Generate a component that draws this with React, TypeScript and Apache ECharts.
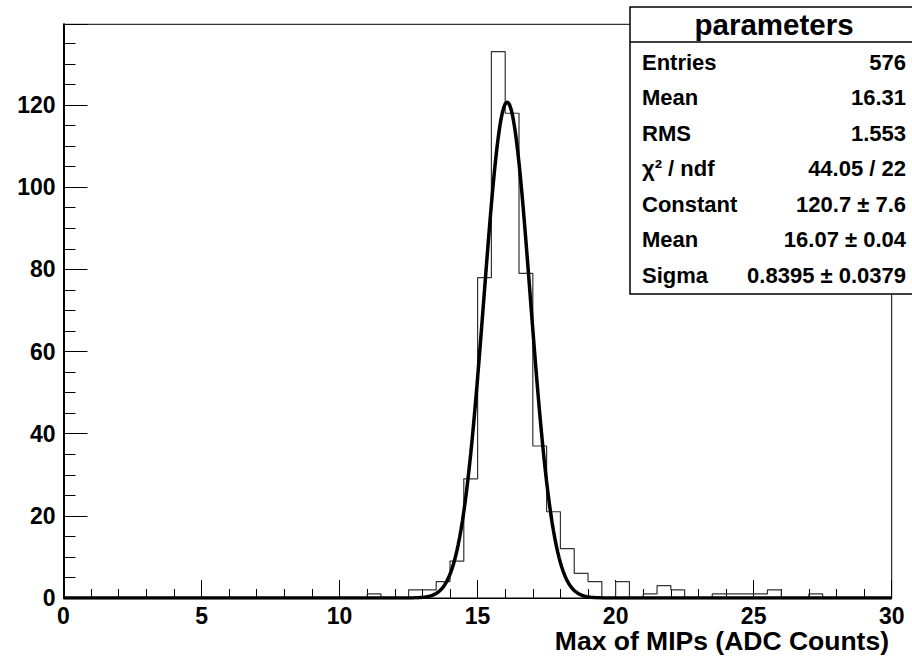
import React, { useEffect, useRef } from "react";
import * as echarts from "echarts";

// Histogram: 60 bins of width 0.5 from 0 to 30
const binWidth = 0.5;
const binCounts: number[] = [
  0, 0, 0, 0, 0, 0, 0, 0, 0, 0,
  0, 0, 0, 0, 0, 0, 0, 0, 0, 0,
  0, 0, 1, 0, 0, 2, 2, 4, 9, 29,
  78, 133, 118, 79, 37, 21, 12, 6, 4, 0,
  4, 0, 1, 3, 2, 0, 0, 1, 1, 1,
  1, 2, 0, 0, 1, 0, 0, 0, 0, 0,
];

// Gaussian fit parameters (from the stats box)
const fitConstant = 120.7;
const fitMean = 16.07;
const fitSigma = 0.8395;

const xTickLabels = ["0", "5", "10", "15", "20", "25", "30"];
const yTickLabels = ["0", "20", "40", "60", "80", "100", "120"];

const statsTitle = "parameters";
const statLabels = ["Entries", "Mean", "RMS", "χ² / ndf", "Constant", "Mean", "Sigma"];
const statValues = ["576", "16.31", "1.553", "44.05 / 22", "120.7 ± 7.6", "16.07 ± 0.04", "0.8395 ± 0.0379"];

const xAxisTitle = "Max of MIPs (ADC Counts)";

const FONT = "'Liberation Sans', Arial, Helvetica, sans-serif";

export default function App() {
  const ref = useRef<HTMLDivElement>(null);

  useEffect(() => {
    if (!ref.current) return;
    const chart = echarts.init(ref.current, null, { renderer: "svg" });

    // step outline points from bins
    const histPoints: number[][] = [];
    binCounts.forEach((c, i) => {
      const lo = i * binWidth;
      const hi = lo + binWidth;
      histPoints.push([lo, c]);
      histPoints.push([hi, c]);
    });

    const fitPoints: number[][] = [];
    for (let k = 0; k <= 600; k++) {
      const x = k * 0.05;
      const z = (x - fitMean) / fitSigma;
      fitPoints.push([x, fitConstant * Math.exp(-0.5 * z * z)]);
    }

    const rowY0 = 62;
    const rowStep = 35.5;
    const statGraphics: any[] = [];
    statLabels.forEach((lab, i) => {
      statGraphics.push({
        type: "text",
        x: 642,
        y: rowY0 + i * rowStep,
        style: {
          text: lab,
          fontFamily: FONT,
          fontWeight: "bold",
          fontSize: 22,
          fill: "#000",
          textAlign: "left",
          textVerticalAlign: "middle",
        },
      });
      statGraphics.push({
        type: "text",
        x: 906,
        y: rowY0 + i * rowStep,
        style: {
          text: statValues[i],
          fontFamily: FONT,
          fontWeight: "bold",
          fontSize: 22,
          fill: "#000",
          textAlign: "right",
          textVerticalAlign: "middle",
        },
      });
    });

    chart.setOption({
      animation: false,
      backgroundColor: "#fff",
      grid: {
        left: 63.5,
        right: 20.3,
        top: 24.3,
        bottom: 60,
        show: true,
        borderColor: "#000",
        borderWidth: 1,
        backgroundColor: "transparent",
        containLabel: false,
      },
      xAxis: {
        type: "value",
        min: 0,
        max: 30,
        interval: 5,
        splitLine: { show: false },
        axisLine: { show: true, onZero: false, lineStyle: { color: "#000", width: 1 } },
        axisTick: { show: true, inside: true, length: 18, lineStyle: { color: "#000", width: 1 } },
        minorTick: { show: true, splitNumber: 5, length: 9, lineStyle: { color: "#000", width: 1 } },
        axisLabel: {
          show: true,
          margin: 6,
          color: "#000",
          fontFamily: FONT,
          fontWeight: "bold",
          fontSize: 23,
          formatter: (v: number) => (xTickLabels.includes(String(v)) ? String(v) : ""),
        },
      },
      yAxis: {
        type: "value",
        min: 0,
        max: 139.65,
        interval: 20,
        splitLine: { show: false },
        axisLine: { show: true, onZero: false, lineStyle: { color: "#000", width: 2 } },
        axisTick: { show: true, inside: true, length: 24, lineStyle: { color: "#000", width: 1 } },
        minorTick: { show: true, splitNumber: 4, length: 12, lineStyle: { color: "#000", width: 1 } },
        axisLabel: {
          show: true,
          margin: 8,
          color: "#000",
          fontFamily: FONT,
          fontWeight: "bold",
          fontSize: 23,
          showMaxLabel: false,
          formatter: (v: number) => (yTickLabels.includes(String(v)) ? String(v) : ""),
        },
      },
      series: [
        {
          type: "line",
          data: histPoints,
          symbol: "none",
          lineStyle: { color: "#333", width: 1.2 },
          z: 2,
          silent: true,
        },
        {
          type: "line",
          data: fitPoints,
          symbol: "none",
          lineStyle: { color: "#000", width: 3.5 },
          z: 3,
          silent: true,
        },
      ],
      graphic: [
        {
          type: "text",
          x: 889,
          y: 641,
          style: {
            text: xAxisTitle,
            fontFamily: FONT,
            fontWeight: "bold",
            fontSize: 26.5,
            fill: "#000",
            textAlign: "right",
            textVerticalAlign: "middle",
          },
        },
        {
          type: "rect",
          shape: { x: 630, y: 7, width: 290, height: 287 },
          style: { fill: "#fff", stroke: "#000", lineWidth: 1.5 },
          z: 10,
        },
        {
          type: "line",
          shape: { x1: 630, y1: 42, x2: 912, y2: 42 },
          style: { stroke: "#000", lineWidth: 1.5 },
          z: 11,
        },
        {
          type: "text",
          x: 774,
          y: 24,
          z: 11,
          style: {
            text: statsTitle,
            fontFamily: FONT,
            fontWeight: "bold",
            fontSize: 29.5,
            fill: "#000",
            textAlign: "center",
            textVerticalAlign: "middle",
          },
        },
        ...statGraphics.map((g) => ({ ...g, z: 11 })),
      ],
    });

    return () => chart.dispose();
  }, []);

  return (
    <div
      ref={ref}
      style={{ position: "absolute", left: 0, top: 0, width: 912, height: 658 }}
    />
  );
}
